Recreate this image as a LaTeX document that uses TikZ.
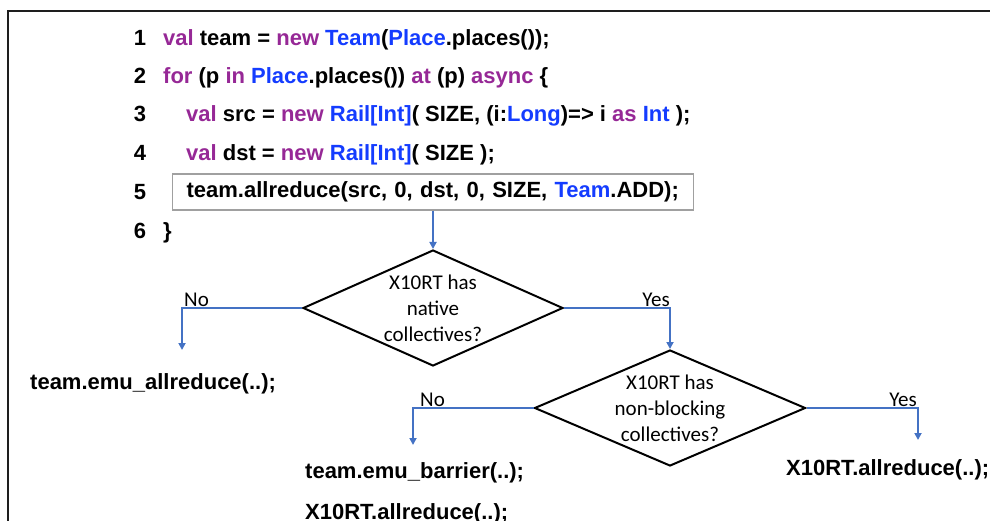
\documentclass[tikz,border=0pt]{standalone}
\usepackage{fontspec}
\setmainfont{Liberation Sans}
\newfontfamily\calfont{Carlito}
\usetikzlibrary{shapes.geometric,arrows.meta}
\definecolor{kw}{RGB}{150,40,150}
\definecolor{ty}{RGB}{20,60,255}
\definecolor{flow}{RGB}{68,114,196}
\definecolor{framecol}{RGB}{30,30,30}
\definecolor{boxgray}{RGB}{160,160,160}
\newcommand{\kw}[1]{\textcolor{kw}{#1}}
\newcommand{\ty}[1]{\textcolor{ty}{#1}}
\begin{document}
\begin{tikzpicture}[x=1pt,y=-1pt,
  code/.style={anchor=base west,inner sep=0pt,font=\fontsize{22}{26}\selectfont\bfseries},
  num/.style={anchor=base,inner sep=0pt,font=\fontsize{22}{26}\selectfont\bfseries},
  dec/.style={diamond,draw=black,line width=2pt,inner sep=0pt},
  dtext/.style={align=center,inner sep=0pt,font=\calfont\fontsize{21}{26}\selectfont},
  flowline/.style={draw=flow,line width=2pt,-{Triangle[length=7pt,width=7pt]}},
  lbl/.style={font=\calfont\fontsize{21}{26}\selectfont,inner sep=1pt},
  ]
\useasboundingbox (0,0) rectangle (990,521);
\coordinate (ftl) at (8,11);
\coordinate (ftr) at (991,11);
\coordinate (fbl) at (8,522);
\draw[framecol,line width=2pt] (fbl) -- (ftl) -- (ftr);

% line numbers
\node[num] (n1) at (140,46) {1};
\node[num] (n2) at (140,84) {2};
\node[num] (n3) at (140,122) {3};
\node[num] (n4) at (140,161) {4};
\node[num] (n5) at (140,200) {5};
\node[num] (n6) at (140,239) {6};

% code
\node[code] (c1) at (163,46) {\kw{val} team = \kw{new} \ty{Team}(\ty{Place}.places());};
\node[code] (c2) at (163,84) {\kw{for} (p \kw{in} \ty{Place}.places()) \kw{at} (p) \kw{async} \{};
\node[code] (c3) at (186,122) {\kw{val} src = \kw{new} \ty{Rail[Int]}( SIZE, (i:\ty{Long})=> i \kw{as} \ty{Int} );};
\node[code] (c4) at (186,161) {\kw{val} dst = \kw{new} \ty{Rail[Int]}( SIZE );};
\node[code,draw=boxgray,line width=1.2pt,anchor=west,inner xsep=14pt,inner ysep=0pt,
      minimum height=36pt,text width=493pt] (l5) at (172,192)
      {team.allreduce(src, 0, dst, 0, SIZE, \ty{Team}.ADD);};
\node[code] (c6) at (163,239) {\}};

% decisions
\node[dec,minimum width=260pt,minimum height=116pt] (d1) at (433,308) {};
\node[dtext] (d1t) at (d1.center) {X10RT has\\native\\collectives?};
\node[dec,minimum width=271pt,minimum height=116pt] (d2) at (670,408) {};
\node[dtext] (d2t) at (d2.center) {X10RT has\\non-blocking\\collectives?};

% outcomes
\node[code] (o1) at (30,389) {team.emu\_allreduce(..);};
\node[code] (o2) at (305,478) {team.emu\_barrier(..);};
\node[code] (o3) at (305,519) {X10RT.allreduce(..);};
\node[code] (o4) at (786,475) {X10RT.allreduce(..);};

% connector end points
\coordinate (a1) at (182,350);
\coordinate (a2) at (413,445);
\coordinate (a3) at (918,440);

% connectors
\draw[flowline] (l5.south -| d1.north) -- (d1.north);
\draw[flowline] (d1.west) -- (a1 |- d1.west) -- (a1);
\draw[flowline] (d1.east) -- (d2.north |- d1.east) -- (d2.north);
\draw[flowline] (d2.west) -- (a2 |- d2.west) -- (a2);
\draw[flowline] (d2.east) -- (a3 |- d2.east) -- (a3);

% labels
\node[lbl,anchor=south west] (ln1) at ([xshift=1pt]a1 |- d1.west) {No};
\node[lbl,anchor=south east] (ly1) at ([xshift=1pt]d2.north |- d1.east) {Yes};
\node[lbl,anchor=south west] (ln2) at ([xshift=6pt]a2 |- d2.west) {No};
\node[lbl,anchor=south east] (ly2) at ([xshift=0pt]a3 |- d2.east) {Yes};
\end{tikzpicture}
\end{document}
